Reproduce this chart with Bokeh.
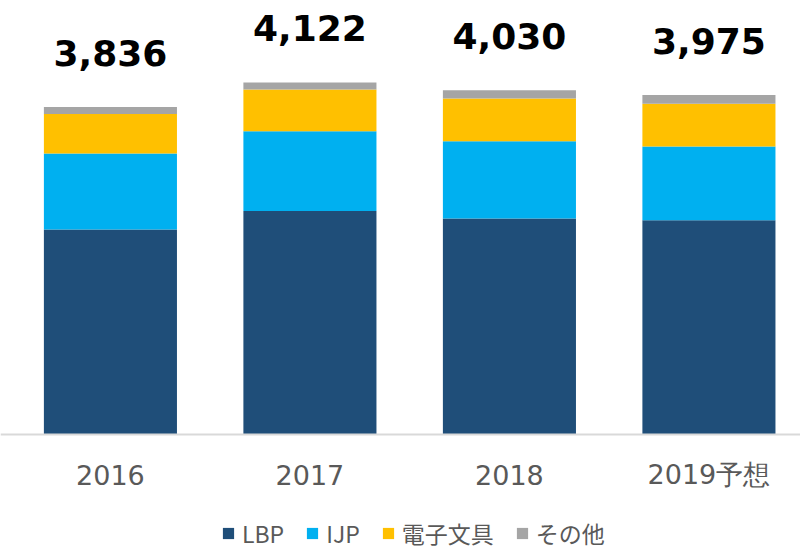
from bokeh.plotting import figure
from bokeh.models import ColumnDataSource, Range1d, Legend, LegendItem, Span
from bokeh.core.properties import value
from bokeh.embed import file_html
from bokeh.resources import INLINE

# ---- data ----
years = ["2016", "2017", "2018", "2019予想"]
lbp = [2400, 2618, 2529, 2510]
ijp = [889, 932, 905, 862]
ebun = [465, 490, 500, 502]
other = [82, 82, 96, 101]
totals = [3836, 4122, 4030, 3975]
series_names = ["LBP", "IJP", "電子文具", "その他"]
colors = ["#1F4E79", "#00B0F0", "#FFC000", "#A5A5A5"]

idx = list(range(len(years)))
src = ColumnDataSource(dict(x=idx, lbp=lbp, ijp=ijp, ebun=ebun, other=other))
lab = ColumnDataSource(dict(x=idx, y=totals, t=[f"{v:,}" for v in totals]))
cat = ColumnDataSource(dict(x=idx, y=[0] * len(idx), t=years))

p = figure(width=800, height=551, output_backend="svg", toolbar_location=None,
           x_range=Range1d(-0.551, 3.459), y_range=Range1d(-1370, 5082),
           x_axis_location=None, y_axis_location=None,
           min_border=0)
p.outline_line_color = None
p.grid.visible = False
p.background_fill_color = "white"
p.border_fill_color = "white"

rs = p.vbar_stack(["lbp", "ijp", "ebun", "other"], x="x", width=0.667,
                  color=colors, line_color=None, source=src)

# baseline (category axis line)
p.add_layout(Span(location=0, dimension="width", line_color="#D9D9D9", line_width=2))

# category labels
p.text(x="x", y="y", text="t", source=cat, text_align="center",
       text_baseline="alphabetic", y_offset=40,
       text_font=value("DejaVu Sans"), text_font_size="27px",
       text_color="#595959")

# totals
p.text(x="x", y="y", text="t", source=lab, text_align="center",
       text_baseline="alphabetic", y_offset=-54,
       text_font=value("DejaVu Sans"), text_font_style="bold",
       text_font_size="36px", text_color="#000000")

legend = Legend(items=[LegendItem(label=n, renderers=[r]) for n, r in zip(series_names, rs)],
                orientation="horizontal", location=(221, 1),
                label_text_font="Noto Sans CJK JP", label_text_font_size="23px",
                label_text_color="#595959", glyph_width=14, glyph_height=14,
                spacing=21, label_standoff=7, border_line_color=None,
                background_fill_alpha=0, padding=0, margin=0)
p.add_layout(legend, "center")

open("out.html", "w").write(file_html(p, INLINE))
